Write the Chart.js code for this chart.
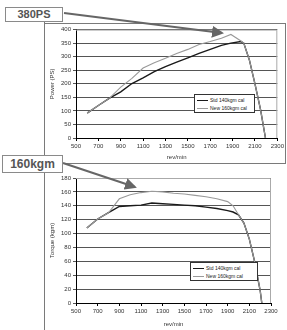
<!DOCTYPE html>
<html>
<head>
<meta charset="utf-8">
<script src="https://cdn.jsdelivr.net/npm/chart.js@4"></script>
<style>
  body { margin: 0; background: #fff; width: 287px; height: 330px; position: relative; overflow: hidden; font-family: "Liberation Sans", Arial, sans-serif; }
  .abs { position: absolute; }
  .line { position: absolute; background: #7a7a7a; }
  .tag { position: absolute; border: 1px solid #8a8a8a; background: #fff; color: #555; font-weight: bold; text-align: center; box-sizing: border-box; }
  .legend { position: absolute; border: 1px solid #333; background: #fff; font-size: 5px; color: #222; box-sizing: border-box; padding: 1px 2px; }
  .legend div { height: 8px; line-height: 8px; white-space: nowrap; }
  .legend span.sw { display: inline-block; width: 11px; vertical-align: middle; margin-right: 2px; }
</style>
</head>
<body>
<div class="line" style="left:44px;top:21px;width:1px;height:309px;"></div>
<div class="line" style="left:44px;top:23px;width:242px;height:1px;"></div>
<div class="line" style="left:285px;top:23px;width:1px;height:140px;"></div>
<div class="line" style="left:63px;top:163px;width:223px;height:1px;"></div>

<canvas id="powerChart" class="abs" width="241" height="139" style="left:45px;top:24px;"></canvas>
<canvas id="torqueChart" class="abs" width="241" height="166" style="left:45px;top:164px;"></canvas>

<div id="legendPower" class="legend" style="left:194px;top:94px;width:61px;height:19px;"></div>
<div id="legendTorque" class="legend" style="left:190px;top:262px;width:68px;height:19px;"></div>

<svg class="abs" style="left:0;top:0;" width="287" height="330">
  <defs>
    <marker id="head" markerWidth="6" markerHeight="6" refX="5" refY="3" orient="auto" markerUnits="strokeWidth">
      <path d="M0,0 L6,3 L0,6 z" fill="#666"></path>
    </marker>
  </defs>
  <line x1="64" y1="13" x2="222" y2="33" stroke="#666" stroke-width="2" marker-end="url(#head)"></line>
  <line x1="63" y1="163" x2="135" y2="187" stroke="#666" stroke-width="2" marker-end="url(#head)"></line>
</svg>

<div class="tag" style="left:5px;top:7px;width:58px;height:15px;font-size:11px;line-height:13px;">380PS</div>
<div class="tag" style="left:2px;top:155px;width:61px;height:18px;font-size:12px;line-height:16px;">160kgm</div>

<script>
// series names
const seriesNames = ['Std 140kgm cal', 'New 160kgm cal'];
const seriesColors = ['#1a1a1a', '#9a9a9a'];

// power curves (PS vs rev/min)
const powerRpm = [600, 700, 800, 900, 1000, 1100, 1200, 1300, 1400, 1500, 1600, 1700, 1800, 1885, 1975, 2000, 2050, 2100, 2150, 2194];
const stdPower = [92, 120, 147, 170, 201, 222, 245, 263, 280, 296, 312, 327, 342, 350, 356, 350, 288, 200, 105, 0];
const newPower = [92, 120, 147, 188, 220, 258, 278, 294, 312, 327, 345, 356, 368, 382, 358, 350, 288, 200, 105, 0];

// torque curves (kgm vs rev/min)
const torqueRpm = [600, 700, 800, 900, 1000, 1100, 1200, 1300, 1400, 1500, 1600, 1700, 1800, 1900, 1950, 2000, 2050, 2100, 2150, 2200, 2215];
const stdTorque = [108, 121, 130, 139, 140, 141, 144, 143, 142, 141, 140, 138, 136, 133, 131, 127, 115, 92, 59, 18, 0];
const newTorque = [108, 121, 130, 150, 156, 159, 161, 160, 158, 157, 155, 153, 150, 146, 140, 127, 115, 92, 59, 18, 0];

const xTicks = { min: 500, max: 2300, step: 200 };

function pts(xs, ys) {
  return xs.map((x, i) => ({ x: x, y: ys[i] }));
}

// thin frame around the plot area, like the spreadsheet chart
const plotFrame = {
  id: 'plotFrame',
  beforeDatasetsDraw(chart) {
    const a = chart.chartArea;
    const ctx = chart.ctx;
    ctx.save();
    ctx.strokeStyle = '#aaa';
    ctx.lineWidth = 1;
    ctx.beginPath();
    ctx.moveTo(a.left, a.top + 0.5);
    ctx.lineTo(a.right - 0.5, a.top + 0.5);
    ctx.lineTo(a.right - 0.5, a.bottom);
    ctx.stroke();
    ctx.restore();
  }
};

function makeChart(id, rpm, stdVals, newVals, yMax, yStep, yTitle, yWidth, xHeight, pad) {
  const ctx = document.getElementById(id).getContext('2d');
  return new Chart(ctx, {
    type: 'line',
    data: {
      datasets: [{
        label: seriesNames[0],
        data: pts(rpm, stdVals),
        borderColor: seriesColors[0],
        borderWidth: 1.4,
        pointRadius: 0,
        order: 2
      }, {
        label: seriesNames[1],
        data: pts(rpm, newVals),
        borderColor: seriesColors[1],
        borderWidth: 1.1,
        pointRadius: 0,
        order: 1
      }]
    },
    options: {
      responsive: false,
      animation: false,
      devicePixelRatio: 1,
      layout: { padding: pad },
      plugins: { legend: { display: false }, tooltip: { enabled: false } },
      scales: {
        x: {
          type: 'linear',
          min: xTicks.min,
          max: xTicks.max,
          ticks: {
            stepSize: xTicks.step,
            font: { size: 6, family: 'Liberation Sans' },
            color: '#333',
            padding: 2,
            maxRotation: 0,
            callback: v => String(v)
          },
          grid: { drawOnChartArea: false, drawTicks: true, tickLength: 3, color: '#000' },
          border: { color: '#000' },
          title: { display: true, text: 'rev/min', font: { size: 6, family: 'Liberation Sans' }, color: '#333', padding: { top: 1, bottom: 2 } },
          afterFit(scale) { scale.height = xHeight; }
        },
        y: {
          min: 0,
          max: yMax,
          ticks: { stepSize: yStep, font: { size: 6, family: 'Liberation Sans' }, color: '#333', padding: 2 },
          grid: { color: '#555', tickLength: 3 },
          border: { color: '#000' },
          title: { display: true, text: yTitle, font: { size: 6, family: 'Liberation Sans' }, color: '#333', padding: { top: 4, bottom: 2 } },
          afterFit(scale) { scale.width = yWidth; }
        }
      }
    },
    plugins: [plotFrame]
  });
}

function buildLegend(elId) {
  const el = document.getElementById(elId);
  seriesNames.forEach((name, i) => {
    const row = document.createElement('div');
    const sw = document.createElement('span');
    sw.className = 'sw';
    sw.style.borderTop = (i === 0 ? 1.5 : 1) + 'px solid ' + seriesColors[i];
    row.appendChild(sw);
    row.appendChild(document.createTextNode(name));
    el.appendChild(row);
  });
}

makeChart('powerChart', powerRpm, stdPower, newPower, 400, 50, 'Power (PS)', 31, 25, { top: 5, right: 5, left: 0, bottom: 0 });
makeChart('torqueChart', torqueRpm, stdTorque, newTorque, 180, 20, 'Torque (kgm)', 31, 27, { top: 14, right: 15, left: 0, bottom: 0 });
buildLegend('legendPower');
buildLegend('legendTorque');
</script>
</body>
</html>
